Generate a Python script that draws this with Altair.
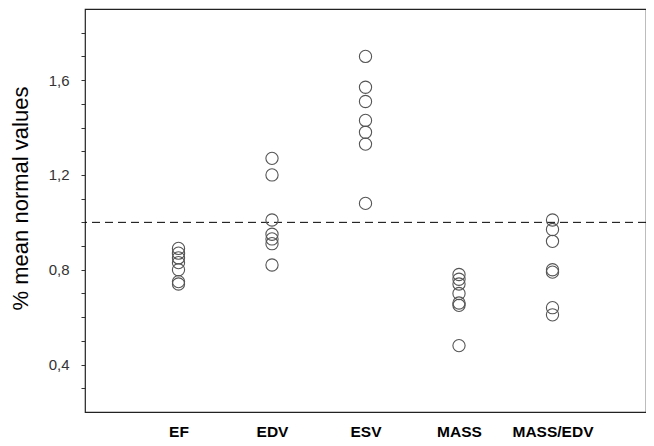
import altair as alt
import pandas as pd

categories = ["EF", "EDV", "ESV", "MASS", "MASS/EDV"]
ef = [0.89, 0.87, 0.85, 0.83, 0.80, 0.75, 0.74]
edv = [1.27, 1.20, 1.01, 0.95, 0.93, 0.91, 0.82]
esv = [1.70, 1.57, 1.51, 1.43, 1.38, 1.33, 1.08]
mass = [0.78, 0.76, 0.74, 0.70, 0.66, 0.65, 0.48]
mass_edv = [1.01, 0.97, 0.92, 0.80, 0.79, 0.64, 0.61]
reference_value = [1.0]
y_ticks = [0.3, 0.4, 0.5, 0.6, 0.7, 0.8, 0.9, 1.0, 1.1, 1.2, 1.3, 1.4, 1.5, 1.6, 1.7, 1.8]

series = [ef, edv, esv, mass, mass_edv]
rows = []
for cat, vals in zip(categories, series):
    for v in vals:
        rows.append({"cat": cat, "value": v})
df = pd.DataFrame(rows)
ref_df = pd.DataFrame({"value": reference_value})

y_scale = alt.Scale(domain=[0.2, 1.9], nice=False, zero=False)

points = alt.Chart(df).mark_point(
    shape="circle", filled=False, size=150, stroke="#555555", strokeWidth=1.1, opacity=1
).encode(
    x=alt.X("cat:N", sort=categories, scale=alt.Scale(type="point", padding=1),
            axis=alt.Axis(title=None, ticks=False, domain=False, labelAngle=0,
                          labelFontSize=15.5, labelFontWeight="bold", labelColor="#000000",
                          labelFont="Liberation Sans", labelPadding=12)),
    y=alt.Y("value:Q", scale=y_scale,
            axis=alt.Axis(title="% mean normal values", values=y_ticks, tickCount=40,
                          grid=False, domain=False,
                          tickSize=4, tickColor="#333333", labelOverlap=False,
                          labelBound=False, labelFlush=False, format=".1f",
                          labelExpr="(round(datum.value * 10) % 4 == 0) ? replace(datum.label, '.', ',') : ''",
                          labelFontSize=15, labelColor="#333333", labelFont="Liberation Sans",
                          labelPadding=12,
                          titleFontSize=22, titleFontWeight="normal", titleFont="Liberation Sans",
                          titleColor="#000000", titleAngle=270, titleAlign="center",
                          titleBaseline="middle", titleX=-65, titleY=189)),
)

rule = alt.Chart(ref_df).mark_rule(color="#000000", strokeWidth=1, strokeDash=[8, 5]).encode(
    y=alt.Y("value:Q", scale=y_scale)
)

chart = alt.layer(rule, points).properties(
    width=561, height=403,
    autosize=alt.AutoSizeParams(type="none"),
    padding={"left": 77, "top": 1, "right": 0, "bottom": 30},
    background="#ffffff",
).configure_view(stroke="#222222", strokeWidth=1.2)

chart.save("out.html", embed_options={"renderer": "svg", "actions": False})
